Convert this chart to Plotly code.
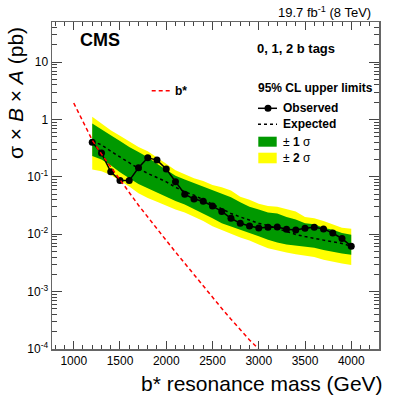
import plotly.graph_objects as go

# ---------------- data ----------------
mass = [1200, 1300, 1400, 1500, 1600, 1700, 1800, 1900, 2000, 2100,
        2200, 2300, 2400, 2500, 2600, 2700, 2800, 2900, 3000, 3100,
        3200, 3300, 3400, 3500, 3600, 3700, 3800, 3900, 4000]

observed = [0.40, 0.26, 0.123, 0.086, 0.086, 0.144, 0.215, 0.196, 0.137, 0.082,
            0.050, 0.041, 0.0375, 0.031, 0.025, 0.019, 0.0155, 0.0139, 0.0129, 0.0132,
            0.0134, 0.0122, 0.0119, 0.0127, 0.0132, 0.0124, 0.0105, 0.0084, 0.0062]

expected = [0.42, 0.36, 0.28, 0.22, 0.175, 0.14, 0.115, 0.098, 0.082, 0.066,
            0.055, 0.048, 0.040, 0.033, 0.027, 0.023, 0.0200, 0.0175, 0.0155, 0.0142,
            0.0125, 0.0110, 0.0099, 0.0091, 0.0084, 0.0079, 0.0074, 0.0069, 0.0062]

plus2 = [1.12, 0.85, 0.65, 0.52, 0.42, 0.33, 0.28, 0.22, 0.17, 0.13,
         0.11, 0.095, 0.085, 0.072, 0.066, 0.058, 0.045, 0.040, 0.034, 0.031,
         0.030, 0.027, 0.025, 0.020, 0.019, 0.017, 0.015, 0.013, 0.0125]

plus1 = [0.85, 0.68, 0.53, 0.42, 0.33, 0.27, 0.22, 0.17, 0.135, 0.105,
         0.090, 0.078, 0.068, 0.058, 0.051, 0.044, 0.036, 0.030, 0.027, 0.024,
         0.023, 0.020, 0.018, 0.0155, 0.015, 0.013, 0.012, 0.0105, 0.0098]

minus1 = [0.23, 0.20, 0.16, 0.12, 0.095, 0.075, 0.062, 0.052, 0.045, 0.038,
          0.033, 0.027, 0.023, 0.019, 0.0155, 0.0135, 0.012, 0.0105, 0.0092, 0.0080,
          0.0072, 0.0066, 0.0063, 0.0061, 0.0058, 0.0053, 0.0049, 0.0046, 0.0044]

minus2 = [0.135, 0.125, 0.108, 0.085, 0.068, 0.052, 0.043, 0.037, 0.032, 0.027,
          0.024, 0.020, 0.017, 0.0138, 0.0119, 0.0102, 0.0088, 0.0078, 0.0066, 0.0057,
          0.0052, 0.0048, 0.0045, 0.0042, 0.0040, 0.0036, 0.0033, 0.0031, 0.0029]

theory_mass = [1000, 1100, 1200, 1300, 1400, 1500, 1600, 1700, 1800, 1900, 2000,
               2100, 2200, 2300, 2400, 2500, 2600, 2700, 2800, 2900, 3000]
theory_xsec = [1.94, 0.95, 0.436, 0.249, 0.148, 0.088, 0.053, 0.032, 0.020, 0.0123, 0.0078,
               0.0049, 0.0031, 0.00195, 0.00125, 0.00080, 0.00051, 0.00033, 0.000215, 0.000144, 0.0001]

y_tickvals = [1e-4, 1e-3, 1e-2, 1e-1, 1, 10]
y_ticktext = ["10<sup>-4</sup>", "10<sup>-3</sup>", "10<sup>-2</sup>", "10<sup>-1</sup>", "1", "10"]

# ---------------- figure ----------------
FONT = "Liberation Sans, Arial, Helvetica, sans-serif"
GREEN = "#009900"
YELLOW = "#FFFF00"

fig = go.Figure()

fig.add_trace(go.Scatter(
    x=mass + mass[::-1], y=plus2 + minus2[::-1],
    fill="toself", fillcolor=YELLOW, line=dict(width=0), mode="lines",
    hoverinfo="skip"))
fig.add_trace(go.Scatter(
    x=mass + mass[::-1], y=plus1 + minus1[::-1],
    fill="toself", fillcolor=GREEN, line=dict(width=0), mode="lines",
    hoverinfo="skip"))
fig.add_trace(go.Scatter(
    x=mass, y=expected, mode="lines",
    line=dict(color="black", width=1.5, dash="dot")))
fig.add_trace(go.Scatter(
    x=mass, y=observed, mode="lines+markers",
    line=dict(color="black", width=1.5),
    marker=dict(color="black", size=7)))
fig.add_trace(go.Scatter(
    x=theory_mass, y=theory_xsec, mode="lines",
    line=dict(color="#FF0000", width=1.5, dash="4px,3px"), cliponaxis=True))

# plot area in pixels: x 52..379, y 22..349
W, H = 399, 404
L, R, T, B = 52, 20, 22, 55
PW = W - L - R
PH = H - T - B


def px(xpix):
    return (xpix - L) / PW


def py(ypix):
    return (H - B - ypix) / PH


minor_y = [k * 10.0 ** e for e in range(-4, 2) for k in range(2, 10)]

fig.update_layout(
    width=W, height=H,
    margin=dict(l=L, r=R, t=T, b=B, autoexpand=False),
    paper_bgcolor="white", plot_bgcolor="white",
    showlegend=False,
    font=dict(family=FONT, color="black", size=12),
    xaxis=dict(
        range=[765, 4300], tick0=1000, dtick=500, automargin=False,
        ticks="inside", ticklen=8, tickwidth=1, tickcolor="#444",
        showline=True, linecolor="#666", linewidth=1.5, mirror="ticks",
        showgrid=False, zeroline=False,
        tickfont=dict(size=12, family=FONT),
        minor=dict(ticks="inside", ticklen=4, dtick=100, tickcolor="#444", showgrid=False),
    ),
    yaxis=dict(
        type="log", range=[-4, 1.699], automargin=False,
        tickvals=y_tickvals, ticktext=y_ticktext,
        ticks="inside", ticklen=10, tickwidth=1, tickcolor="#444",
        showline=True, linecolor="#666", linewidth=1.5, mirror="ticks",
        showgrid=False, zeroline=False,
        tickfont=dict(size=12, family=FONT),
        minor=dict(ticks="inside", ticklen=5, tickvals=minor_y, tickcolor="#444", showgrid=False),
    ),
)

ann = []
ann.append(dict(text="19.7 fb<sup>-1</sup> (8 TeV)", x=px(373), y=py(12), xref="paper", yref="paper",
                xanchor="right", yanchor="middle", showarrow=False, font=dict(size=13)))
ann.append(dict(text="<b>CMS</b>", x=px(78), y=py(40), xref="paper", yref="paper",
                xanchor="left", yanchor="middle", showarrow=False, font=dict(size=18)))
ann.append(dict(text="<b>0, 1, 2 b tags</b>", x=px(255), y=py(48), xref="paper", yref="paper",
                xanchor="left", yanchor="middle", showarrow=False, font=dict(size=13)))
ann.append(dict(text="<b>95% CL upper limits</b>", x=px(256), y=py(88.5), xref="paper", yref="paper",
                xanchor="left", yanchor="middle", showarrow=False, font=dict(size=12)))
ann.append(dict(text="<b>b*</b>", x=px(172.7), y=py(91), xref="paper", yref="paper",
                xanchor="left", yanchor="middle", showarrow=False, font=dict(size=12)))
for txt, ypix in [("<b>Observed</b>", 108.3), ("<b>Expected</b>", 124.3),
                  ("± <b>1</b> σ", 141.7), ("± <b>2</b> σ", 158)]:
    ann.append(dict(text=txt, x=px(280.7), y=py(ypix), xref="paper", yref="paper",
                    xanchor="left", yanchor="middle", showarrow=False, font=dict(size=12)))
ann.append(dict(text="b* resonance mass (GeV)", x=px(385), y=py(383), xref="paper", yref="paper",
                xanchor="right", yanchor="middle", showarrow=False, font=dict(size=21)))
ann.append(dict(text="σ × <i>B</i> × <i>A</i> (pb)", x=px(15), y=py(93), xref="paper", yref="paper",
                xanchor="center", yanchor="middle", textangle=-90, showarrow=False, font=dict(size=21)))
fig.update_layout(annotations=ann)

shapes = []
# b* legend line
shapes.append(dict(type="line", xref="paper", yref="paper", x0=px(151.7), x1=px(170), y0=py(90.7), y1=py(90.7),
                   line=dict(color="#FF0000", width=1.5, dash="4px,3px")))
# observed legend
shapes.append(dict(type="line", xref="paper", yref="paper", x0=px(258), x1=px(277), y0=py(108.3), y1=py(108.3),
                   line=dict(color="black", width=1.5)))
shapes.append(dict(type="circle", xref="paper", yref="paper", x0=px(264.5), x1=px(271.5), y0=py(104.8), y1=py(111.8),
                   fillcolor="black", line=dict(color="black", width=0)))
# expected legend
shapes.append(dict(type="line", xref="paper", yref="paper", x0=px(258), x1=px(277), y0=py(124.3), y1=py(124.3),
                   line=dict(color="black", width=1.5, dash="dot")))
# band boxes
shapes.append(dict(type="rect", xref="paper", yref="paper", x0=px(258.3), x1=px(276.7), y0=py(146.7), y1=py(136.7),
                   fillcolor=GREEN, line=dict(width=0)))
shapes.append(dict(type="rect", xref="paper", yref="paper", x0=px(258.3), x1=px(276.7), y0=py(163.3), y1=py(152.7),
                   fillcolor=YELLOW, line=dict(width=0)))
fig.update_layout(shapes=shapes)

fig.write_html("out.html",
               config={"displayModeBar": False, "staticPlot": True},
               post_script="document.body.style.margin='0';document.body.style.padding='0';")
